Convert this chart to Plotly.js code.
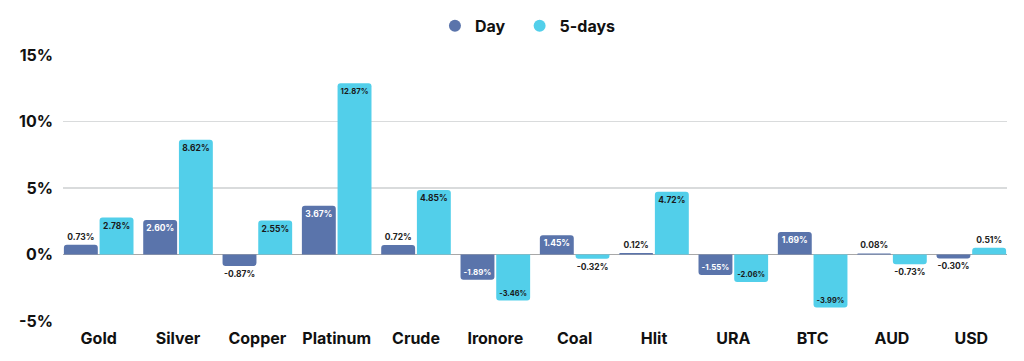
<!DOCTYPE html>
<html>
<head>
<meta charset="utf-8">
<script src="https://cdn.plot.ly/plotly-3.0.1.min.js"></script>
<style>html,body{margin:0;padding:0;background:#fff;}#chart{width:1024px;height:361px;}</style>
</head>
<body>
<div id="chart"></div>
<script>
const categories = ["Gold","Silver","Copper","Platinum","Crude","Ironore","Coal","Hlit","URA","BTC","AUD","USD"];
const dayValues = [0.73, 2.60, -0.87, 3.67, 0.72, -1.89, 1.45, 0.12, -1.55, 1.69, 0.08, -0.30];
const fiveDayValues = [2.78, 8.62, 2.55, 12.87, 4.85, -3.46, -0.32, 4.72, -2.06, -3.99, -0.73, 0.51];
const yTickValues = [-5, 0, 5, 10, 15];
const yTickLabels = ["-5%", "0%", "5%", "10%", "15%"];

const dayColor = "#5a74ab";
const fiveColor = "#52cfea";
const FONT = "Inter, 'Open Sans', sans-serif";

function labels(arr){ return arr.map(v => v.toFixed(2) + "%"); }
function positions(arr){ return arr.map(v => Math.abs(v) > 1.2 ? "inside" : "outside"); }

const traces = [
  {
    type: "bar", name: "Day", x: categories, y: dayValues,
    text: labels(dayValues), textposition: positions(dayValues), textangle: 0,
    insidetextanchor: "end",
    insidetextfont: {family: FONT, size: 8.5, color: "#ffffff", weight: 700},
    outsidetextfont: {family: FONT, size: 8.5, color: "#222222", weight: 700},
    marker: {color: dayColor, cornerradius: 3},
    cliponaxis: false, showlegend: false, hoverinfo: "x+y"
  },
  {
    type: "bar", name: "5-days", x: categories, y: fiveDayValues,
    text: labels(fiveDayValues), textposition: positions(fiveDayValues), textangle: 0,
    insidetextanchor: "end",
    insidetextfont: {family: FONT, size: 8.5, color: "#1a1a1a", weight: 700},
    outsidetextfont: {family: FONT, size: 8.5, color: "#222222", weight: 700},
    marker: {color: fiveColor, cornerradius: 3},
    cliponaxis: false, showlegend: false, hoverinfo: "x+y"
  },
  {
    type: "scatter", mode: "markers", name: "Day", x: [null], y: [null],
    marker: {color: dayColor, size: 16, symbol: "circle"}, showlegend: true, legend: "legend"
  },
  {
    type: "scatter", mode: "markers", name: "5-days", x: [null], y: [null],
    marker: {color: fiveColor, size: 16, symbol: "circle"}, showlegend: true, legend: "legend2"
  }
];

const legendFont = {family: FONT, size: 16, color: "#111111", weight: 700};

const layout = {
  width: 1024, height: 361,
  margin: {l: 63, r: 17, t: 55, b: 40, autoexpand: false},
  paper_bgcolor: "#ffffff", plot_bgcolor: "#ffffff",
  font: {family: FONT, color: "#111111"},
  barmode: "group", bargap: 0.1, bargroupgap: 0.05,
  showlegend: true,
  legend: {
    orientation: "h", x: 0.394, xanchor: "left", y: 1.11, yanchor: "middle",
    font: legendFont, itemsizing: "constant", itemwidth: 30
  },
  legend2: {
    orientation: "h", x: 0.4837, xanchor: "left", y: 1.11, yanchor: "middle",
    font: legendFont, itemsizing: "constant", itemwidth: 30
  },
  xaxis: {
    type: "category", range: [-0.45, 11.45],
    showgrid: false, zeroline: false, showline: false,
    tickfont: {family: FONT, size: 16, color: "#111111", weight: 700},
    ticks: "", ticklabelstandoff: 6, fixedrange: true
  },
  yaxis: {
    range: [-5, 15], tickvals: yTickValues, ticktext: yTickLabels,
    showgrid: true, gridcolor: "#d9dbdc", gridwidth: 1.3,
    zeroline: true, zerolinecolor: "#a8a8a8", zerolinewidth: 1.6,
    showline: false, ticks: "", ticklen: 0, ticklabelstandoff: 9,
    tickfont: {family: FONT, size: 16, color: "#111111", weight: 700},
    automargin: false, fixedrange: true
  }
};

Plotly.newPlot("chart", traces, layout, {displayModeBar: false, staticPlot: true});
</script>
</body>
</html>
